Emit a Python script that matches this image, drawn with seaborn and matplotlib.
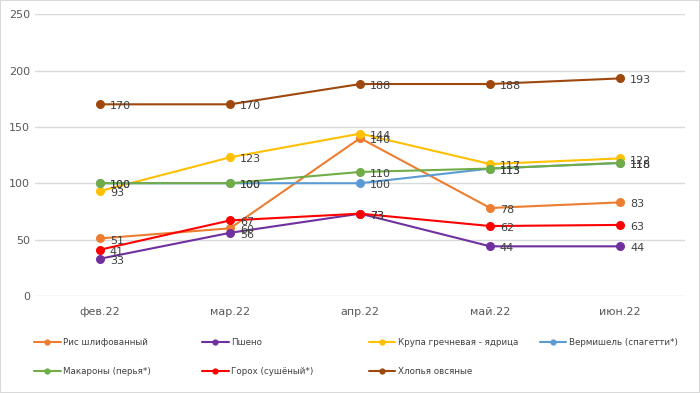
import pandas as pd
import matplotlib.pyplot as plt
import seaborn as sns
from matplotlib.lines import Line2D
from matplotlib.patches import Rectangle

months = ['фев.22', 'мар.22', 'апр.22', 'май.22', 'июн.22']

series_names = ['Рис шлифованный', 'Пшено', 'Крупа гречневая - ядрица',
                'Вермишель (спагетти*)', 'Макароны (перья*)', 'Горох (сушёный*)',
                'Хлопья овсяные']
ris = [51, 60, 140, 78, 83]
psheno = [33, 56, 73, 44, 44]
grechka = [93, 123, 144, 117, 122]
vermishel = [100, 100, 100, 113, 118]
makarony = [100, 100, 110, 113, 118]
goroh = [41, 67, 73, 62, 63]
hlopya = [170, 170, 188, 188, 193]

colors = ['#ED7D31', '#7030A0', '#FFC000', '#5B9BD5', '#70AD47', '#FF0000', '#9E480E']

all_values = [ris, psheno, grechka, vermishel, makarony, goroh, hlopya]

rows = []
for name, vals in zip(series_names, all_values):
    for m, v in zip(months, vals):
        rows.append({'month': m, 'value': v, 'series': name})
df = pd.DataFrame(rows)

sns.set_style('white')
plt.rcParams['font.family'] = ['DejaVu Sans']

fig = plt.figure(figsize=(7, 3.93), dpi=100)
ax = fig.add_axes([0.05, 0.247, 0.929, 0.717])

sns.lineplot(data=df, x='month', y='value', hue='series', hue_order=series_names,
             palette=colors, marker='o', markersize=6.5, markeredgewidth=0,
             linewidth=1.5, ax=ax, legend=False, sort=False)

# data labels
for vals in all_values:
    for i, v in enumerate(vals):
        ax.annotate(str(v), (i, v), xytext=(7, -1.5), textcoords='offset points',
                    va='center', ha='left', fontsize=8, color='#404040', zorder=10)

ax.set_xlim(-0.5, 4.5)
ax.set_ylim(0, 250)
ax.set_yticks([0, 50, 100, 150, 200, 250])
ax.set_xlabel('')
ax.set_ylabel('')
ax.grid(axis='y', color='#D9D9D9', linewidth=1)
ax.set_axisbelow(True)
for s in ax.spines.values():
    s.set_visible(False)
ax.tick_params(axis='both', colors='#595959', labelsize=8, length=0)
ax.tick_params(axis='x', pad=8)

# legend: 4 columns, row-wise order, one small legend per column
handles = [Line2D([0], [0], color=c, lw=1.5, marker='o', markersize=4.5,
                  markeredgewidth=0) for c in colors]
col_x = [0.049, 0.289, 0.527, 0.771]
for c in range(4):
    fig.legend(handles[c::4], series_names[c::4], loc='upper left',
               bbox_to_anchor=(col_x[c], 0.14), frameon=False, fontsize=6.3,
               handlelength=3, handletextpad=0.3, labelcolor='#404040',
               borderaxespad=0, borderpad=0, labelspacing=2.3)

fig.patches.append(Rectangle((0, 0), 1, 1, transform=fig.transFigure,
                             fill=False, edgecolor='#D9D9D9', linewidth=1.5))

fig.savefig('out.png', dpi=100)
